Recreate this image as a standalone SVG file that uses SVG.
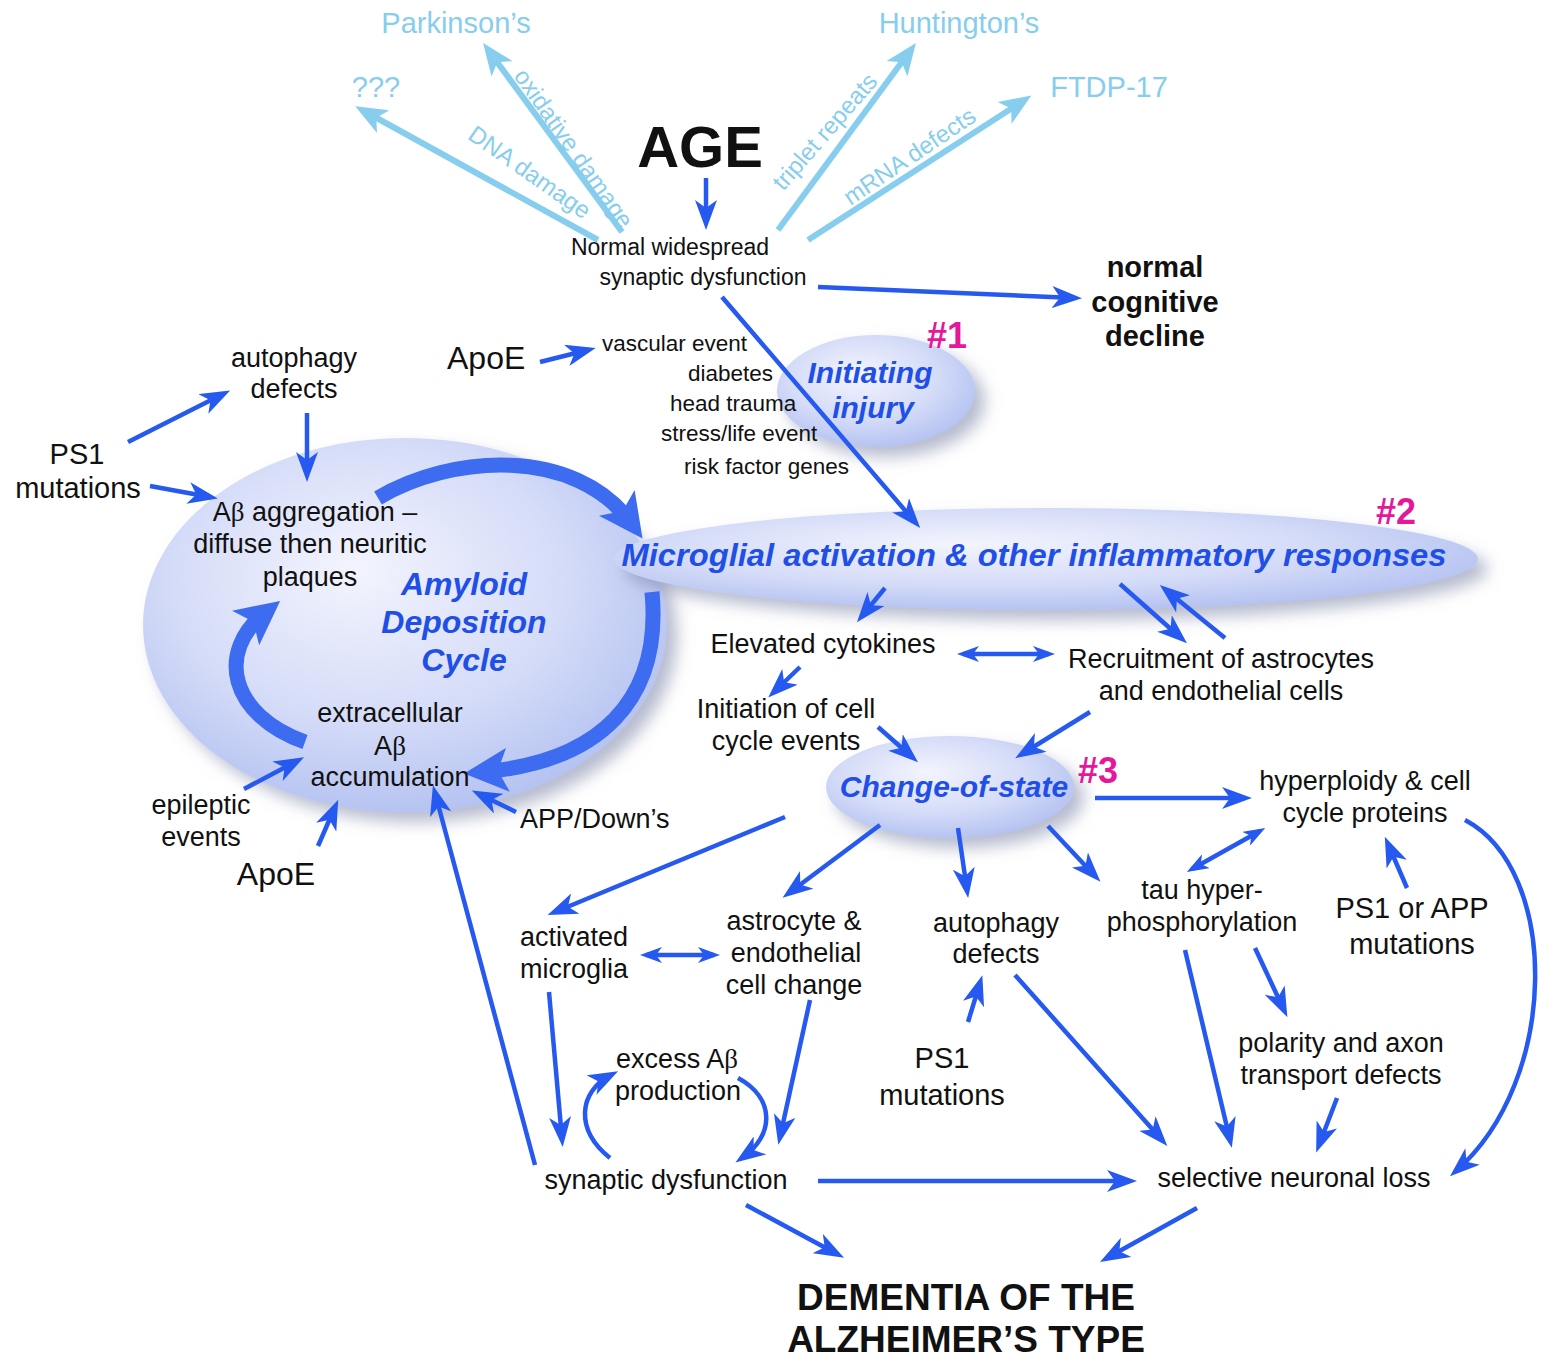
<svg xmlns="http://www.w3.org/2000/svg" width="1557" height="1362" viewBox="0 0 1557 1362">
<defs>
<style>
text{font-family:"Liberation Sans",Arial,sans-serif;fill:#111}
.c{text-anchor:middle}
.s22{font-size:22.5px}
.s23{font-size:23px}
.s27{font-size:27px}
.s29{font-size:29px}
.s32{font-size:32px}
.b{font-weight:bold}
.bi{font-weight:bold;font-style:italic;fill:#1f4fe6}
.lb{fill:#86cdee}
.mg{fill:#e4189b;font-weight:bold;font-size:36px}
.ln{stroke:#2659ef;stroke-width:4.5;fill:none;marker-end:url(#a)}
.dl{stroke:#2659ef;stroke-width:4.5;fill:none;marker-end:url(#d);marker-start:url(#d)}
.lbl{stroke:#86cdee;stroke-width:6;fill:none;marker-end:url(#al)}
.thick{stroke:#3d6cf0;stroke-width:15;fill:none;marker-end:url(#at)}
.ell{fill:url(#g);filter:url(#sh)}
.gr{font-family:"Liberation Serif","Times New Roman",serif}
</style>
<radialGradient id="g" cx="45%" cy="40%" r="62%" fx="40%" fy="35%">
<stop offset="0" stop-color="#f3f4fd"/>
<stop offset="0.6" stop-color="#d5dcf8"/>
<stop offset="1" stop-color="#b4c2f1"/>
</radialGradient>
<filter id="sh" x="-20%" y="-20%" width="150%" height="160%">
<feGaussianBlur in="SourceAlpha" stdDeviation="8" result="b"/>
<feOffset in="b" dx="10" dy="10" result="o"/>
<feFlood flood-color="#7c84a8" flood-opacity="0.55"/>
<feComposite in2="o" operator="in" result="s"/>
<feMerge><feMergeNode in="s"/><feMergeNode in="SourceGraphic"/></feMerge>
</filter>
<marker id="a" viewBox="0 0 30 22" refX="22" refY="11" markerWidth="30" markerHeight="22" markerUnits="userSpaceOnUse" orient="auto-start-reverse"><path d="M0,0 L30,11 L0,22 L8,11 z" fill="#2659ef"/></marker>
<marker id="d" viewBox="0 0 22 16" refX="16" refY="8" markerWidth="22" markerHeight="16" markerUnits="userSpaceOnUse" orient="auto-start-reverse"><path d="M0,0 L22,8 L0,16 L6,8 z" fill="#2659ef"/></marker>
<marker id="al" viewBox="0 0 32 26" refX="22" refY="13" markerWidth="32" markerHeight="26" markerUnits="userSpaceOnUse" orient="auto"><path d="M0,0 L32,13 L0,26 L8,13 z" fill="#86cdee"/></marker>
<marker id="at" viewBox="0 0 44 44" refX="26" refY="22" markerWidth="44" markerHeight="44" markerUnits="userSpaceOnUse" orient="auto"><path d="M0,0 L44,22 L0,44 L10,22 z" fill="#3d6cf0"/></marker>
</defs>
<rect width="1557" height="1362" fill="#fff"/>

<g id="shapes">
<ellipse id="amyloid-ellipse" class="ell" cx="405" cy="625" rx="262" ry="187"/>
<ellipse id="microglial-ellipse" class="ell" cx="1046" cy="559" rx="432" ry="51"/>
<ellipse id="initiating-ellipse" class="ell" cx="876" cy="391" rx="99" ry="56"/>
<ellipse id="change-ellipse" class="ell" cx="950" cy="787" rx="124" ry="51"/>
</g>

<g id="connectors">
<line class="lbl" x1="598" y1="240" x2="364" y2="111"/>
<line class="lbl" x1="622" y1="232" x2="489" y2="51"/>
<line class="lbl" x1="778" y1="230" x2="910" y2="51"/>
<line class="lbl" x1="808" y1="240" x2="1023" y2="101"/>
<line class="ln" x1="706" y1="178" x2="706" y2="222"/>
<line class="ln" x1="818" y1="287" x2="1074" y2="298"/>
<line class="ln" x1="722" y1="297" x2="915" y2="522"/>
<line class="ln" x1="540" y1="362" x2="588" y2="350"/>
<line class="ln" x1="128" y1="442" x2="223" y2="394"/>
<line class="ln" x1="150" y1="486" x2="210" y2="497"/>
<line class="ln" x1="307" y1="413" x2="307" y2="474"/>
<line class="ln" x1="244" y1="789" x2="297" y2="761"/>
<line class="ln" x1="318" y1="846" x2="335" y2="807"/>
<line class="ln" x1="516" y1="812" x2="479" y2="794"/>
<path class="thick" d="M378,498 C450,455 575,445 632,524"/>
<path class="thick" d="M652,592 C662,700 600,762 482,772"/>
<path class="thick" d="M305,742 C230,715 215,652 266,612"/>
<line class="ln" x1="885" y1="588" x2="862" y2="616"/>
<line class="dl" x1="963" y1="654" x2="1049" y2="654"/>
<line class="ln" x1="1120" y1="584" x2="1181" y2="638"/>
<line class="ln" x1="1225" y1="638" x2="1166" y2="590"/>
<line class="ln" x1="800" y1="667" x2="774" y2="692"/>
<line class="ln" x1="878" y1="727" x2="912" y2="757"/>
<line class="ln" x1="1090" y1="712" x2="1022" y2="754"/>
<line class="ln" x1="1095" y1="798" x2="1244" y2="798"/>
<line class="ln" x1="785" y1="817" x2="555" y2="912"/>
<line class="ln" x1="880" y1="825" x2="789" y2="893"/>
<line class="ln" x1="958" y1="828" x2="967" y2="890"/>
<line class="ln" x1="1048" y1="826" x2="1095" y2="876"/>
<line class="dl" x1="1192" y1="869" x2="1260" y2="831"/>
<line class="ln" x1="1407" y1="888" x2="1388" y2="844"/>
<line class="dl" x1="646" y1="955" x2="714" y2="955"/>
<line class="ln" x1="1255" y1="948" x2="1284" y2="1010"/>
<line class="ln" x1="1185" y1="950" x2="1230" y2="1140"/>
<line class="ln" x1="1337" y1="1098" x2="1319" y2="1145"/>
<line class="ln" x1="1015" y1="975" x2="1162" y2="1140"/>
<line class="ln" x1="968" y1="1022" x2="980" y2="983"/>
<path class="ln" d="M1465,820 C1560,870 1560,1080 1456,1171"/>
<line class="ln" x1="549" y1="992" x2="562" y2="1139"/>
<line class="ln" x1="810" y1="1000" x2="780" y2="1137"/>
<line class="ln" x1="535" y1="1165" x2="435" y2="793"/>
<line class="ln" x1="818" y1="1181" x2="1129" y2="1181"/>
<line class="ln" x1="746" y1="1205" x2="837" y2="1254"/>
<line class="ln" x1="1197" y1="1208" x2="1107" y2="1258"/>
<path class="ln" d="M610,1158 C575,1130 578,1092 611,1075"/>
<path class="ln" d="M738,1078 C775,1098 775,1135 742,1158"/>
</g>

<g id="n-disease-labels">
<text class="lb c" x="456" y="33" font-size="29">Parkinson’s</text>
<text class="lb c" x="959" y="33" font-size="29">Huntington’s</text>
<text class="lb c" x="376" y="97" font-size="29">???</text>
<text class="lb c" x="1109" y="97" font-size="29">FTDP-17</text>
<text class="lb c" font-size="24" transform="translate(525,179) rotate(35)">DNA damage</text>
<text class="lb c" font-size="24" transform="translate(567,153) rotate(55)">oxidative damage</text>
<text class="lb c" font-size="24" transform="translate(831,137) rotate(-49)">triplet repeats</text>
<text class="lb c" font-size="24" transform="translate(914,163) rotate(-34)">mRNA defects</text>
</g>

<g id="n-age"><text class="c b" x="700" y="167" font-size="58">AGE</text></g>
<g id="n-normal-sd">
<text class="c s23" x="670" y="255">Normal widespread</text>
<text class="c s23" x="703" y="285">synaptic dysfunction</text>
</g>
<g id="n-cognitive">
<text class="c b s29" x="1155" y="277">normal</text>
<text class="c b s29" x="1155" y="312">cognitive</text>
<text class="c b s29" x="1155" y="346">decline</text>
</g>
<g id="n-apoe-top"><text class="s32" x="447" y="369">ApoE</text></g>
<g id="n-risks">
<text class="s22" x="602" y="351">vascular event</text>
<text class="s22" x="688" y="381">diabetes</text>
<text class="s22" x="670" y="411">head trauma</text>
<text class="s22" x="661" y="441">stress/life event</text>
<text class="s22" x="684" y="474">risk factor genes</text>
</g>
<g id="n-initiating">
<text class="c bi" x="870" y="383" font-size="30">Initiating</text>
<text class="c bi" x="873" y="418" font-size="30">injury</text>
<text class="mg" x="927" y="348">#1</text>
</g>
<g id="n-autophagy-left">
<text class="c s27" x="294" y="367">autophagy</text>
<text class="c s27" x="294" y="398">defects</text>
</g>
<g id="n-ps1-left">
<text class="c s29" x="77" y="464">PS1</text>
<text class="c s29" x="78" y="498">mutations</text>
</g>
<g id="n-amyloid">
<text class="c s27" x="315" y="521">A<tspan class="gr">β</tspan> aggregation –</text>
<text class="c s27" x="310" y="553">diffuse then neuritic</text>
<text class="c s27" x="310" y="586">plaques</text>
<text class="c bi" x="464" y="595" font-size="32">Amyloid</text>
<text class="c bi" x="464" y="633" font-size="32">Deposition</text>
<text class="c bi" x="464" y="671" font-size="32">Cycle</text>
<text class="c s27" x="390" y="722">extracellular</text>
<text class="c s27" x="390" y="755">A<tspan class="gr">β</tspan></text>
<text class="c s27" x="390" y="786">accumulation</text>
</g>
<g id="n-epileptic">
<text class="c s27" x="201" y="814">epileptic</text>
<text class="c s27" x="201" y="846">events</text>
</g>
<g id="n-apoe-bottom"><text class="c s32" x="276" y="885">ApoE</text></g>
<g id="n-app"><text class="s27" x="520" y="828">APP/Down’s</text></g>
<g id="n-microglial">
<text class="c bi" x="1034" y="566" font-size="31" textLength="825" lengthAdjust="spacingAndGlyphs">Microglial activation &amp; other inflammatory responses</text>
<text class="mg" x="1376" y="524">#2</text>
</g>
<g id="n-cytokines"><text class="c s27" x="823" y="653">Elevated cytokines</text></g>
<g id="n-recruitment">
<text class="c s27" x="1221" y="668">Recruitment of astrocytes</text>
<text class="c s27" x="1221" y="700">and endothelial cells</text>
</g>
<g id="n-initiation">
<text class="c s27" x="786" y="718">Initiation of cell</text>
<text class="c s27" x="786" y="750">cycle events</text>
</g>
<g id="n-change">
<text class="c bi" x="954" y="797" font-size="30">Change-of-state</text>
<text class="mg" x="1078" y="783">#3</text>
</g>
<g id="n-hyperploidy">
<text class="c s27" x="1365" y="790">hyperploidy &amp; cell</text>
<text class="c s27" x="1365" y="822">cycle proteins</text>
</g>
<g id="n-activated">
<text class="c s27" x="574" y="946">activated</text>
<text class="c s27" x="574" y="978">microglia</text>
</g>
<g id="n-astrocyte">
<text class="c s27" x="794" y="930">astrocyte &amp;</text>
<text class="c s27" x="796" y="962">endothelial</text>
<text class="c s27" x="794" y="994">cell change</text>
</g>
<g id="n-autophagy">
<text class="c s27" x="996" y="932">autophagy</text>
<text class="c s27" x="996" y="963">defects</text>
</g>
<g id="n-tau">
<text class="c s27" x="1202" y="899">tau hyper-</text>
<text class="c s27" x="1202" y="931">phosphorylation</text>
</g>
<g id="n-ps1-app">
<text class="c s29" x="1412" y="918">PS1 or APP</text>
<text class="c s29" x="1412" y="954">mutations</text>
</g>
<g id="n-polarity">
<text class="c s27" x="1341" y="1052">polarity and axon</text>
<text class="c s27" x="1341" y="1084">transport defects</text>
</g>
<g id="n-ps1-bottom">
<text class="c s29" x="942" y="1068">PS1</text>
<text class="c s29" x="942" y="1105">mutations</text>
</g>
<g id="n-excess">
<text class="c s27" x="677" y="1068">excess A<tspan class="gr">β</tspan></text>
<text class="c s27" x="678" y="1100">production</text>
</g>
<g id="n-synaptic"><text class="c s27" x="666" y="1189">synaptic dysfunction</text></g>
<g id="n-selective"><text class="c s27" x="1294" y="1187">selective neuronal loss</text></g>
<g id="n-dementia">
<text class="c b" x="966" y="1310" font-size="37">DEMENTIA OF THE</text>
<text class="c b" x="966" y="1352" font-size="37">ALZHEIMER’S TYPE</text>
</g>
</svg>
